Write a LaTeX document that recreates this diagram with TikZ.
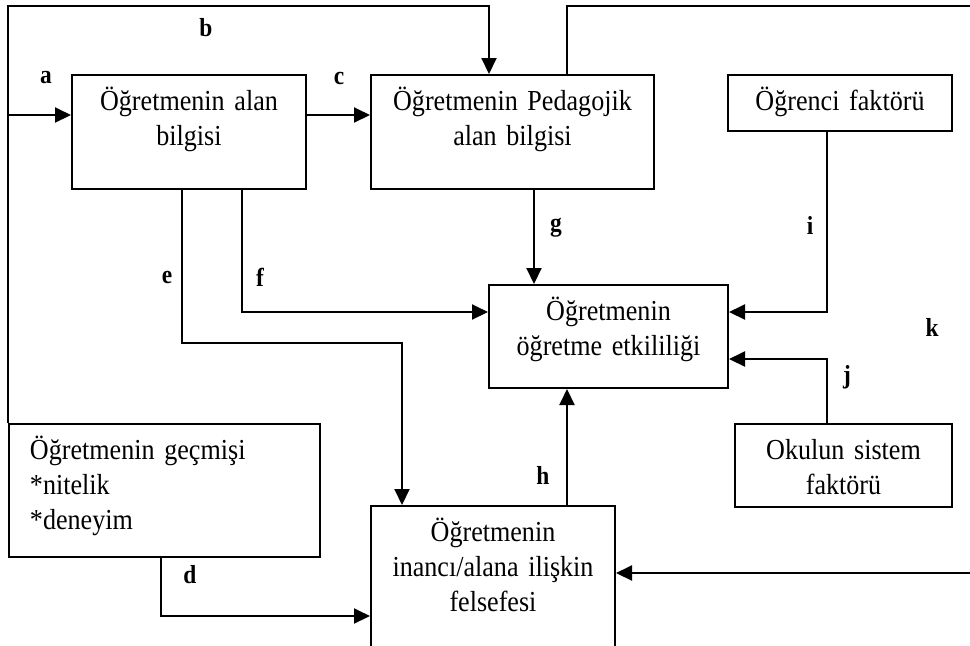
\documentclass[tikz,border=0pt]{standalone}
\usepackage{fontspec}
\setmainfont{Liberation Serif}[FakeStretch=0.9]
\usetikzlibrary{positioning}
\usetikzlibrary{arrows.meta}

\begin{document}
\begin{tikzpicture}[x=0.5pt,y=-0.5pt,->,>={Triangle[length=8pt,width=7.5pt]},line width=1pt,on grid,
        font=\fontsize{14.5}{17.5}\selectfont,
        blok/.style={draw,align=center,inner xsep=0pt,inner ysep=0pt,text height=17.5pt},
        etiket/.style={inner sep=0pt,font=\fontsize{13}{15}\selectfont\bfseries}]
        \useasboundingbox (0,0) rectangle (970,645);
        \node[blok,text width=117pt,text depth=39.5pt] (alan) at (189,132) {Öğretmenin alan\\bilgisi};
        \node[blok,text width=141.5pt,text depth=39.5pt] (ped) [right=161.75pt of alan] {Öğretmenin Pedagojik\\alan bilgisi};
        \node[blok,text width=112pt,text depth=10.5pt] (ogrenci) [above right=14.5pt and 163.75pt of ped] {Öğrenci faktörü};
        \node[blok,text width=119.5pt,text depth=34pt] (etki) [below right=102.25pt and 48pt of ped] {Öğretmenin\\öğretme etkililiği};
        \node[blok,text width=108.5pt,text depth=24pt] (okul) [below right=64.5pt and 117.5pt of etki] {Okulun sistem\\faktörü};
        \node[blok,align=left,text width=134.5pt,inner xsep=10.5pt,text depth=49pt] (gecmis) [below left=179.25pt and 12.25pt of alan] {Öğretmenin geçmişi\\{*}nitelik\\{*}deneyim};
        \node[blok,text width=122pt,text depth=59.5pt] (inanc) [below left=123.25pt and 57.75pt of etki] {Öğretmenin\\inancı/alana ilişkin\\felsefesi};
        \coordinate (bust) at (489,6);
        \coordinate (ay) at (9,115);
        \coordinate (kust) at (567,6);
        \coordinate (ksag) at (990,573);
        \coordinate (e1) at (182,343);
        \coordinate (e2) at (402,343);
        \coordinate (f1) at (242,312);
        \coordinate (gx) at (534,240);
        \coordinate (ix) at (827,312);
        \coordinate (jx) at (827,359);
        \coordinate (hx) at (567,450);
        \coordinate (dx) at (161,616);
        \draw (gecmis.north west) |- (bust) -- (ped.north -| bust);
        \draw (ay) -- (alan.west |- ay);
        \draw (alan.east |- ay) -- (ped.west |- ay);
        \draw (ped.north -| kust) -- (kust) -| (ksag) -- (inanc.east |- ksag);
        \draw (alan.south -| e1) -- (e1) -- (e2) -- (inanc.north -| e2);
        \draw (alan.south -| f1) |- (etki.west |- f1);
        \draw (ped.south -| gx) -- (etki.north -| gx);
        \draw (ogrenci.south -| ix) |- (etki.east |- ix);
        \draw (okul.north -| jx) |- (etki.east |- jx);
        \draw (inanc.north -| hx) -- (etki.south -| hx);
        \draw (gecmis.south -| dx) |- (inanc.west |- dx);
        \node[etiket] (la) at (46,78) {a};
        \node[etiket] (lb) at (206,28) {b};
        \node[etiket] (lc) at (339,78) {c};
        \node[etiket] (ld) at (190,575) {d};
        \node[etiket] (le) at (167,277) {e};
        \node[etiket] (lf) at (260,277) {f};
        \node[etiket] (lg) at (556,228) {g};
        \node[etiket] (lh) at (543,475) {h};
        \node[etiket] (li) at (810,225) {i};
        \node[etiket] (lj) at (847,377) {j};
        \node[etiket] (lk) at (932,327) {k};
\end{tikzpicture}
\end{document}
